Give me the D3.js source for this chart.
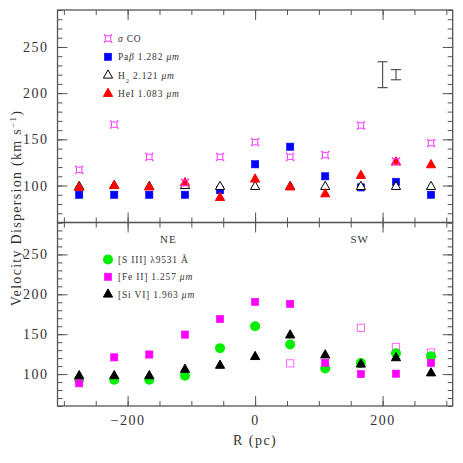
<!DOCTYPE html>
<html>
<head>
<meta charset="utf-8">
<script src="https://cdn.jsdelivr.net/npm/d3@7"></script>
<style>
  body { margin: 0; background: #fff; }
  text { font-family: "Liberation Serif", "DejaVu Serif", serif; fill: #333; }
</style>
</head>
<body>
<svg id="chart" width="463" height="463"></svg>
<script>
// radial positions (pc)
var radius = [-276, -221, -166, -110, -55, 0, 55, 110, 166, 221, 276];

// top panel
var sigmaCO = [117, 166, 131, 103, 131, 147, 131, 133, 165, 126, 146];
var pabeta  = [90, 90, 90, 90, 95, 123, 142, 110, 98, 104, 90];
var h2      = [99, 100, 99, 100, 99, 99, 99, 99, 99, 99, 99];
var hei     = [98, 100, 98.5, 103, 87, 107, 98.5, 91, 111, 125.5, 122.5];

// typical error bars (x, centre, half length)
var errX   = [200, 221];
var errMid = [220, 220];
var errHalf = [14, 5.5];

// bottom panel
var s3      = [93, 93, 93, 98, 132.5, 160, 137, 107, 114, 126, 122.5];
var fe2     = [88.5, 121, 124.5, 149.5, 169, 190.5, 188, 114, 100, 100.5, 114];
var fe2OpenX = [55, 166, 221, 276];
var fe2Open  = [113.5, 158, 134, 127];
var si6     = [98, 98, 98, 106, 111, 122, 149, 124, 112.5, 120.5, 101.5];

var xTicksMajor = [-200, 0, 200];
var yTicksMajor = [100, 150, 200, 250];

var svg = d3.select("#chart");
var left = 57.5, right = 452.7, plotTop = 10, mid = 222.5, bottom = 406;
var axisColor = "#555";

var x = d3.scaleLinear().domain([-310, 310]).range([left, right]);
var yTop = d3.scaleLinear().domain([60, 290]).range([mid, plotTop]);
var yBot = d3.scaleLinear().domain([60, 290]).range([bottom, mid]);

var minorX = d3.range(-300, 301, 50);
var minorY = d3.range(60, 291, 10);

function styleAxis(g) {
  g.select(".domain").remove();
  g.selectAll("line").attr("stroke", axisColor).attr("stroke-width", 1);
  g.selectAll("text").style("font-size", "14px").style("letter-spacing", "1.5px")
    .attr("fill", "#333");
}

function panelAxes(y, y0, y1, showX) {
  // frame
  svg.append("rect").attr("x", left).attr("y", y1)
    .attr("width", right - left).attr("height", y0 - y1)
    .attr("fill", "none").attr("stroke", axisColor).attr("stroke-width", 1.3);

  // y ticks left and right
  svg.append("g").attr("transform", "translate(" + left + ",0)")
    .call(d3.axisLeft(y).tickValues(minorY).tickSize(-5).tickFormat(""))
    .call(styleAxis);
  svg.append("g").attr("transform", "translate(" + left + ",0)")
    .call(d3.axisLeft(y).tickValues(yTicksMajor).tickSize(-10).tickPadding(9))
    .call(styleAxis);
  svg.append("g").attr("transform", "translate(" + right + ",0)")
    .call(d3.axisRight(y).tickValues(minorY).tickSize(-5).tickFormat(""))
    .call(styleAxis);
  svg.append("g").attr("transform", "translate(" + right + ",0)")
    .call(d3.axisRight(y).tickValues(yTicksMajor).tickSize(-10).tickFormat(""))
    .call(styleAxis);

  // x ticks top and bottom
  svg.append("g").attr("transform", "translate(0," + y1 + ")")
    .call(d3.axisTop(x).tickValues(minorX).tickSize(-5).tickFormat(""))
    .call(styleAxis);
  svg.append("g").attr("transform", "translate(0," + y1 + ")")
    .call(d3.axisTop(x).tickValues(xTicksMajor).tickSize(-10).tickFormat(""))
    .call(styleAxis);
  svg.append("g").attr("transform", "translate(0," + y0 + ")")
    .call(d3.axisBottom(x).tickValues(minorX).tickSize(-5).tickFormat(""))
    .call(styleAxis);
  svg.append("g").attr("transform", "translate(0," + y0 + ")")
    .call(d3.axisBottom(x).tickValues(xTicksMajor).tickSize(-10).tickPadding(9)
      .tickFormat(showX ? function(d) { return d < 0 ? "\u2212" + (-d) : d; } : ""))
    .call(styleAxis);
}

panelAxes(yTop, mid, plotTop, false);
panelAxes(yBot, bottom, mid, true);

// marker shapes
var triUp = "M0,-5.2L4.6,3L-4.6,3Z";
// open square with little corner spurs (the CO symbol)
var starCO = "M-4,-4L-2,-2.7L2,-2.7L4,-4L2.7,-2L2.7,2L4,4L2,2.7L-2,2.7L-4,4L-2.7,2L-2.7,-2Z";

function pts(data, y, draw, xs) {
  xs = xs || radius;
  var g = svg.append("g");
  g.selectAll("g").data(data).enter().append("g")
    .attr("transform", function(d, i) { return "translate(" + x(xs[i]) + "," + y(d) + ")"; })
    .each(function() { draw(d3.select(this)); });
  return g;
}

function square(color, open) {
  return function(s) {
    s.append("rect").attr("x", -3.6).attr("y", -3.6).attr("width", 7.2).attr("height", 7.2)
      .attr("fill", open ? "none" : color).attr("stroke", color).attr("stroke-width", open ? 1 : 0.6);
  };
}
function triangle(fill, stroke) {
  return function(s) {
    s.append("path").attr("d", triUp).attr("fill", fill).attr("stroke", stroke).attr("stroke-width", 1);
  };
}
function circle(color) {
  return function(s) {
    s.append("circle").attr("r", 5).attr("fill", color);
  };
}
function star(color) {
  return function(s) {
    s.append("path").attr("d", starCO).attr("fill", "none").attr("stroke", color).attr("stroke-width", 1);
  };
}

// top panel points
pts(pabeta, yTop, square("#0000ff"));
pts(h2, yTop, triangle("#fff", "#000"));
pts(hei, yTop, triangle("#ff0000", "#ff0000"));
pts(sigmaCO, yTop, star("#ff33ff"));

// error bars
var eb = svg.append("g").attr("stroke", "#555").attr("stroke-width", 1.2);
errX.forEach(function(d, i) {
  var cap = 5;
  var yA = yTop(errMid[i] + errHalf[i]), yB = yTop(errMid[i] - errHalf[i]);
  eb.append("line").attr("x1", x(d)).attr("x2", x(d)).attr("y1", yA).attr("y2", yB);
  eb.append("line").attr("x1", x(d) - cap).attr("x2", x(d) + cap).attr("y1", yA).attr("y2", yA);
  eb.append("line").attr("x1", x(d) - cap).attr("x2", x(d) + cap).attr("y1", yB).attr("y2", yB);
});

// bottom panel points
pts(fe2Open, yBot, square("#ff66ff", true), fe2OpenX);
pts(s3, yBot, circle("#00ee00"));
pts(fe2, yBot, square("#ff00ff"));
pts(si6, yBot, triangle("#000", "#000"));

// legends
function legend(items, y0, step) {
  items.forEach(function(it, i) {
    var g = svg.append("g").attr("transform", "translate(108," + (y0 + i * step) + ")");
    it.draw(g);
    var t = g.append("text").attr("x", 10).attr("y", 3.5)
      .style("font-size", "9.5px").style("letter-spacing", "0.8px");
    it.label(t);
  });
}

function span(t, s, opt) {
  var ts = t.append("tspan").text(s);
  if (opt && opt.italic) ts.style("font-style", "italic");
  if (opt && opt.sub) ts.attr("baseline-shift", "sub").style("font-size", "6.5px");
  return ts;
}

legend([
  { draw: star("#ff33ff"), label: function(t) { span(t, "\u03c3", {italic: true}); span(t, "  CO"); } },
  { draw: square("#0000ff"), label: function(t) { span(t, "Pa"); span(t, "\u03b2", {italic: true}); span(t, " 1.282 "); span(t, "\u03bcm", {italic: true}); } },
  { draw: triangle("#fff", "#000"), label: function(t) { span(t, "H"); span(t, "2", {sub: true}); span(t, " 2.121 "); span(t, "\u03bcm", {italic: true}); } },
  { draw: triangle("#ff0000", "#ff0000"), label: function(t) { span(t, "HeI  1.083 "); span(t, "\u03bcm", {italic: true}); } }
], 38.5, 18.3);

legend([
  { draw: circle("#00ee00"), label: function(t) { span(t, "[S  III]  \u03bb9531 \u00c5"); } },
  { draw: square("#ff00ff"), label: function(t) { span(t, "[Fe  II]  1.257 "); span(t, "\u03bcm", {italic: true}); } },
  { draw: triangle("#000", "#000"), label: function(t) { span(t, "[Si  VI]  1.963 "); span(t, "\u03bcm", {italic: true}); } }
], 259.5, 17.3);

// NE / SW
svg.append("text").attr("x", x(-136)).attr("y", 243).attr("text-anchor", "middle")
  .style("font-size", "11px").style("letter-spacing", "1px").text("NE");
svg.append("text").attr("x", x(164)).attr("y", 243).attr("text-anchor", "middle")
  .style("font-size", "11px").style("letter-spacing", "1px").text("SW");

// axis titles
svg.append("text").attr("x", x(0)).attr("y", 445).attr("text-anchor", "middle")
  .style("font-size", "14px").style("letter-spacing", "1.5px").text("R (pc)");

var yl = svg.append("text").attr("transform", "translate(21,208) rotate(-90)")
  .attr("text-anchor", "middle").style("font-size", "14px").style("letter-spacing", "1.3px");
yl.append("tspan").text("Velocity Dispersion (km s");
yl.append("tspan").attr("baseline-shift", "super").style("font-size", "9px").text("\u22121");
yl.append("tspan").text(")");
</script>
</body>
</html>
